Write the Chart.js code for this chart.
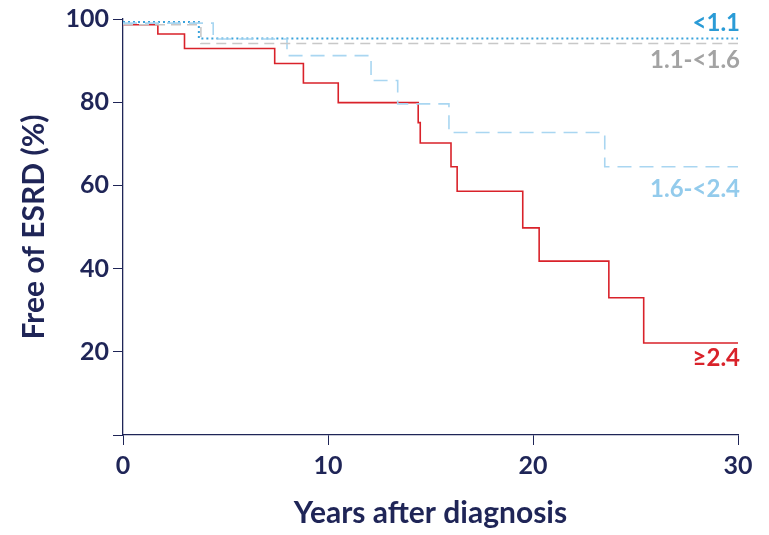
<!DOCTYPE html>
<html>
<head>
<meta charset="utf-8">
<script src="https://cdn.jsdelivr.net/npm/chart.js@4"></script>
<style>
  body { margin: 0; background: #fff; }
  #wrap { width: 769px; height: 535px; }
</style>
</head>
<body>
<div id="wrap"><canvas id="km"></canvas></div>
<script>
const navy = "#1f2557";

// curvas Kaplan-Meier: años y % libre de ESRD
const tRojo = [0, 1.7, 3.0, 7.4, 8.8, 10.5, 14.4, 14.5, 16.0, 16.3, 19.5, 20.3, 23.7, 25.4, 30];
const vRojo = [98.6, 96.4, 92.9, 89.3, 84.6, 79.9, 75.1, 70.2, 64.5, 58.6, 49.8, 41.8, 33.0, 22.1, 22.1];
const tCeleste = [0, 4.4, 8.0, 12.1, 13.4, 15.9, 23.5, 30];
const vCeleste = [99.0, 95.2, 91.2, 85.2, 79.6, 72.7, 64.5, 64.5];
const tAzul = [0, 3.7, 30];
const vAzul = [99.3, 95.3, 95.3];
const tGris = [0, 3.8, 30];
const vGris = [98.6, 94.1, 94.1];

const etiquetas = ["<1.1", "1.1-<1.6", "1.6-<2.4", "≥2.4"];
const etiquetaY = [99, 90, 59, 18.5];
const colores = ["#2a9bd6", "#a3a3a3", "#93cbec", "#d9222a"];

const pts = (t, v) => t.map((x, i) => ({ x, y: v[i] }));

const etiquetasPlugin = {
  id: "etiquetas",
  afterDatasetsDraw(chart) {
    const { ctx, scales } = chart;
    ctx.save();
    ctx.font = "bold 24px Lato";
    ctx.textAlign = "right";
    ctx.textBaseline = "middle";
    etiquetas.forEach((txt, i) => {
      ctx.fillStyle = colores[i];
      ctx.fillText(txt, scales.x.getPixelForValue(30) + 2, scales.y.getPixelForValue(etiquetaY[i]));
    });
    ctx.restore();
  }
};

new Chart(document.getElementById("km"), {
  type: "line",
  data: {
    datasets: [
      { data: pts(tGris, vGris), borderColor: "#c8c8c8", borderDash: [10, 6] },
      { data: pts(tCeleste, vCeleste), borderColor: "#a9d6f1", borderDash: [14, 8] },
      { data: pts(tAzul, vAzul), borderColor: "#3aa3dc", borderDash: [2, 3], borderWidth: 2 },
      { data: pts(tRojo, vRojo), borderColor: "#d9222a" }
    ].map(d => Object.assign({ stepped: "before", pointRadius: 0, borderWidth: 1.6, fill: false }, d))
  },
  options: {
    responsive: true,
    maintainAspectRatio: false,
    animation: false,
    layout: { padding: { top: 4, right: 31, left: 12 } },
    plugins: { legend: { display: false }, tooltip: { enabled: false } },
    scales: {
      x: {
        type: "linear", min: 0, max: 30,
        ticks: { stepSize: 10, color: navy, font: { family: "Lato", size: 25, weight: "bold" }, padding: 6 },
        grid: { drawOnChartArea: false, tickLength: 10, color: navy },
        border: { color: navy, width: 1.3 },
        title: { display: true, text: "Years after diagnosis", color: navy, font: { family: "Lato", size: 30, weight: "bold" }, padding: { top: 14 } },
        afterFit(s) { s.height = 100; }
      },
      y: {
        min: 0, max: 100,
        ticks: { stepSize: 20, color: navy, font: { family: "Lato", size: 25, weight: "bold" }, padding: 4,
          callback: v => v === 0 ? "" : v },
        grid: { drawOnChartArea: false, tickLength: 10, color: navy },
        border: { color: navy, width: 1.3 },
        title: { display: true, text: "Free of ESRD (%)", color: navy, font: { family: "Lato", size: 30, weight: "bold" } },
        afterFit(s) { s.width = 111; }
      }
    }
  },
  plugins: [etiquetasPlugin]
});
</script>
</body>
</html>
